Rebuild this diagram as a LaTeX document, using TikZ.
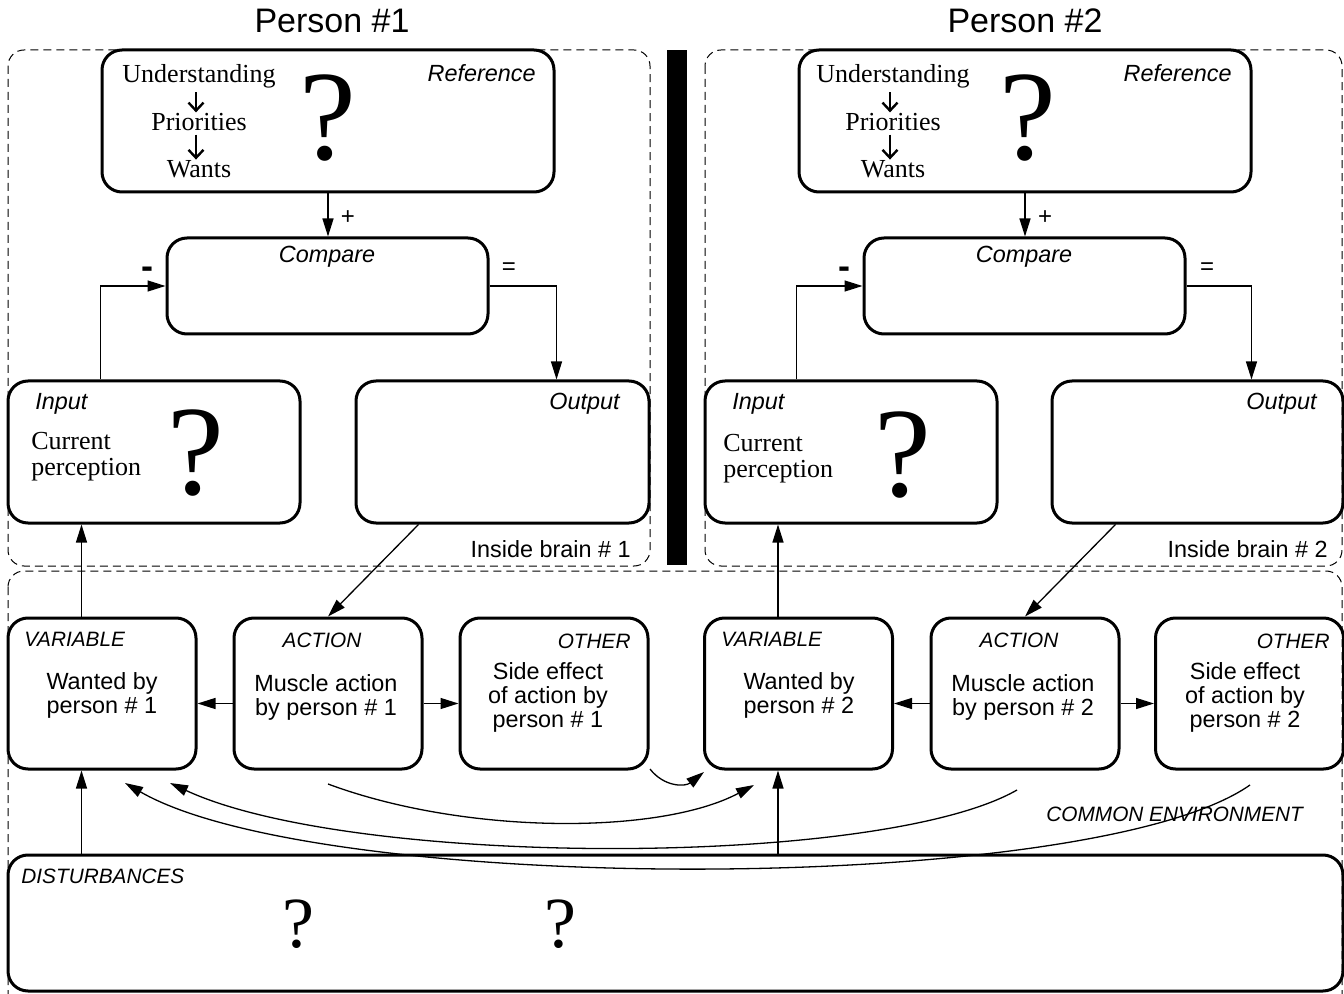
\documentclass[tikz,border=0pt]{standalone}
\usepackage{fontspec}
\setmainfont{Liberation Serif}
\setsansfont{Liberation Sans}
\usepackage{tikz}
\usetikzlibrary{arrows.meta}

\begin{document}
\begin{tikzpicture}[x=0.5pt,y=0.5pt,
box/.style={draw,rounded corners=10pt,line width=1.5pt,inner sep=0pt},
brain/.style={draw,rounded corners=8pt,line width=0.5pt,dash pattern=on 4pt off 2.5pt},
link/.style={line width=0.65pt,-{Triangle[length=9pt,width=5.5pt]}},
down/.style={line width=1.2pt,-{Straight Barb[length=4pt,width=7.5pt]},shorten <=1.5pt,shorten >=0.5pt},
tag/.style={font=\sffamily\itshape\fontsize{11.7}{12}\selectfont,inner sep=0pt},
captag/.style={font=\sffamily\itshape\fontsize{10.4}{12}\selectfont,inner sep=0pt},
body/.style={font=\sffamily\fontsize{11.7}{12}\selectfont,align=center,inner sep=0pt},
serif/.style={font=\fontsize{13}{13}\selectfont,inner sep=0pt},
quest/.style={font=\fontsize{64}{64}\selectfont,inner sep=0pt},
sign/.style={font=\sffamily\fontsize{12}{12}\selectfont,inner sep=0pt},
minus/.style={font=\sffamily\bfseries\fontsize{18}{18}\selectfont,inner sep=0pt},
title/.style={font=\sffamily\fontsize{17}{17}\selectfont,inner sep=0pt}]
\useasboundingbox (0,0) rectangle (1344,-994);

% frames
\draw[brain] (8,-50) rectangle (650,-566);
\draw[brain] (705,-50) rectangle (1342,-566);
\draw[brain] (8,-571) rectangle (1342,-1010);
\fill (667,-50) rectangle (687,-565);

\node[title,anchor=base] (person1) at (332,-33) {Person \#1};
\node[title,anchor=base] (person2) at (1025,-33) {Person \#2};

% person 1, inside the brain
\node[box,minimum width=226pt,minimum height=71pt] (ref1) at (328,-121) {};
\node[tag,anchor=base east] (reftag1) at (536,-82) {Reference};
\node[serif,anchor=base] (und1) at (199,-83) {Understanding};
\node[serif,anchor=base] (pri1) at (199,-131) {Priorities};
\node[serif,anchor=base] (wan1) at (199,-178) {Wants};
\draw[down] ([xshift=-1.5pt]und1.south) -- ([xshift=-1.5pt]pri1.north);
\draw[down] ([xshift=-1.5pt]pri1.south) -- ([xshift=-1.5pt]wan1.north);
\node[quest] (refq1) at (328,-118) {?};
\node[box,minimum width=160.5pt,minimum height=48pt] (cmp1) at (327.5,-286) {};
\node[tag,anchor=base] (cmptag1) at (327,-263) {Compare};
\node[box,minimum width=146pt,minimum height=71pt] (in1) at (154,-452) {};
\node[tag,anchor=base west] (intag1) at (35,-410) {Input};
\node[serif,align=left,anchor=west] (perc1) at (31,-457) {Current\\perception};
\node[quest] (inq1) at (196,-453) {?};
\node[box,minimum width=146.5pt,minimum height=71pt] (out1) at (502.5,-452) {};
\node[tag,anchor=base east] (outtag1) at (620,-410) {Output};
\node[tag,anchor=base east,font=\sffamily\fontsize{11.7}{12}\selectfont] (brain1) at (631,-557) {Inside brain \# 1};
\node[sign] (plus1) at (348,-218) {+};
\node[minus] (minus1) at (147,-273) {-};
\node[sign] (equal1) at (509,-269) {=};

% person 2, inside the brain
\node[box,minimum width=226pt,minimum height=71pt] (ref2) at (1025,-121) {};
\node[tag,anchor=base east] (reftag2) at (1232,-82) {Reference};
\node[serif,anchor=base] (und2) at (893,-83) {Understanding};
\node[serif,anchor=base] (pri2) at (893,-131) {Priorities};
\node[serif,anchor=base] (wan2) at (893,-178) {Wants};
\draw[down] ([xshift=-1.5pt]und2.south) -- ([xshift=-1.5pt]pri2.north);
\draw[down] ([xshift=-1.5pt]pri2.south) -- ([xshift=-1.5pt]wan2.north);
\node[quest] (refq2) at (1028,-118) {?};
\node[box,minimum width=160.5pt,minimum height=48pt] (cmp2) at (1024.5,-286) {};
\node[tag,anchor=base] (cmptag2) at (1024,-263) {Compare};
\node[box,minimum width=146pt,minimum height=71pt] (in2) at (851,-452) {};
\node[tag,anchor=base west] (intag2) at (732,-410) {Input};
\node[serif,align=left,anchor=west] (perc2) at (723,-459) {Current\\perception};
\node[quest] (inq2) at (903,-455) {?};
\node[box,minimum width=145.5pt,minimum height=71pt] (out2) at (1197.5,-452) {};
\node[tag,anchor=base east] (outtag2) at (1317,-410) {Output};
\node[tag,anchor=base east,font=\sffamily\fontsize{11.7}{12}\selectfont] (brain2) at (1328,-557) {Inside brain \# 2};
\node[sign] (plus2) at (1045,-218) {+};
\node[minus] (minus2) at (844,-273) {-};
\node[sign] (equal2) at (1207,-269) {=};

% common environment
\node[box,minimum width=94pt,minimum height=75.5pt] (var1) at (102,-693.5) {};
\node[captag,anchor=base west] (vartag1) at (24,-646) {VARIABLE};
\node[body] (vartext1) at (102,-695) {Wanted by\\person \# 1};
\node[box,minimum width=94pt,minimum height=75.5pt] (act1) at (328,-693.5) {};
\node[captag,anchor=base] (acttag1) at (322,-647) {ACTION};
\node[body] (acttext1) at (326,-697) {Muscle action\\by person \# 1};
\node[box,minimum width=94pt,minimum height=75.5pt] (oth1) at (554,-693.5) {};
\node[captag,anchor=base east] (othtag1) at (631,-648) {OTHER};
\node[body] (othtext1) at (548,-697) {Side effect\\of action by\\person \# 1};

\node[box,minimum width=94pt,minimum height=75.5pt] (var2) at (798.5,-693.5) {};
\node[captag,anchor=base west] (vartag2) at (721,-646) {VARIABLE};
\node[body] (vartext2) at (799,-695) {Wanted by\\person \# 2};
\node[box,minimum width=94pt,minimum height=75.5pt] (act2) at (1025,-693.5) {};
\node[captag,anchor=base] (acttag2) at (1019,-647) {ACTION};
\node[body] (acttext2) at (1023,-697) {Muscle action\\by person \# 2};
\node[box,minimum width=94pt,minimum height=75.5pt] (oth2) at (1249.5,-693.5) {};
\node[captag,anchor=base east] (othtag2) at (1330,-648) {OTHER};
\node[body] (othtext2) at (1245,-697) {Side effect\\of action by\\person \# 2};

\node[captag,anchor=base west] (envtag) at (1046,-821) {COMMON ENVIRONMENT};
\node[box,minimum width=667.5pt,minimum height=68pt] (dist) at (675.5,-923) {};
\node[captag,anchor=base west] (disttag) at (21,-883) {DISTURBANCES};
\node[quest,font=\fontsize{36}{36}\selectfont] (distq1) at (298,-924) {?};
\node[quest,font=\fontsize{36}{36}\selectfont] (distq2) at (560,-924) {?};

% loops person 1
\draw[link] (ref1.south) -- (ref1.south |- cmp1.north);
\draw[link] ([xshift=47pt]in1.north west) |- (cmp1.west);
\draw[link] (cmp1.east) -| ([xshift=-47pt]out1.north east);
\draw[link] ([xshift=32pt]out1.south west) -- (act1.north);
\draw[link] ([xshift=37.5pt]var1.north west) -- ([xshift=37.5pt]var1.north west |- in1.south);
\draw[link] ([yshift=-5pt]act1.west) -- ([yshift=-5pt]var1.east);
\draw[link] ([yshift=-5pt]act1.east) -- ([yshift=-5pt]oth1.west);
\draw[link] ([xshift=37.5pt]var1.south west |- dist.north) -- ([xshift=37.5pt]var1.south west);

% loops person 2
\draw[link] (ref2.south) -- (ref2.south |- cmp2.north);
\draw[link] ([xshift=46.5pt]in2.north west) |- (cmp2.west);
\draw[link] (cmp2.east) -| ([xshift=-46.5pt]out2.north east);
\draw[link] ([xshift=32.5pt]out2.south west) -- (act2.north);
\draw[link] ([xshift=37.5pt]var2.north west) -- ([xshift=37.5pt]var2.north west |- in2.south);
\draw[link] ([yshift=-5pt]act2.west) -- ([yshift=-5pt]var2.east);
\draw[link] ([yshift=-5pt]act2.east) -- ([yshift=-5pt]oth2.west);
\draw[link] ([xshift=37.5pt]var2.south west |- dist.north) -- ([xshift=37.5pt]var2.south west);

% side effects through the environment
\coordinate (c1a) at (650,-769);
\coordinate (c1b) at (704,-772);
\draw[link] (c1a) .. controls (664,-787) and (685,-787) .. (c1b);
\coordinate (c2a) at (328,-784);
\coordinate (c2b) at (754,-785);
\draw[link] (c2a) .. controls (465,-835) and (660,-835) .. (c2b);
\coordinate (c3a) at (1017,-790);
\coordinate (c3b) at (170,-783);
\draw[link] (c3a) .. controls (881,-868) and (353,-868) .. (c3b);
\coordinate (c4a) at (1250,-785);
\coordinate (c4b) at (125,-783);
\draw[link] (c4a) .. controls (1092,-896) and (321,-896) .. (c4b);
\end{tikzpicture}
\end{document}
